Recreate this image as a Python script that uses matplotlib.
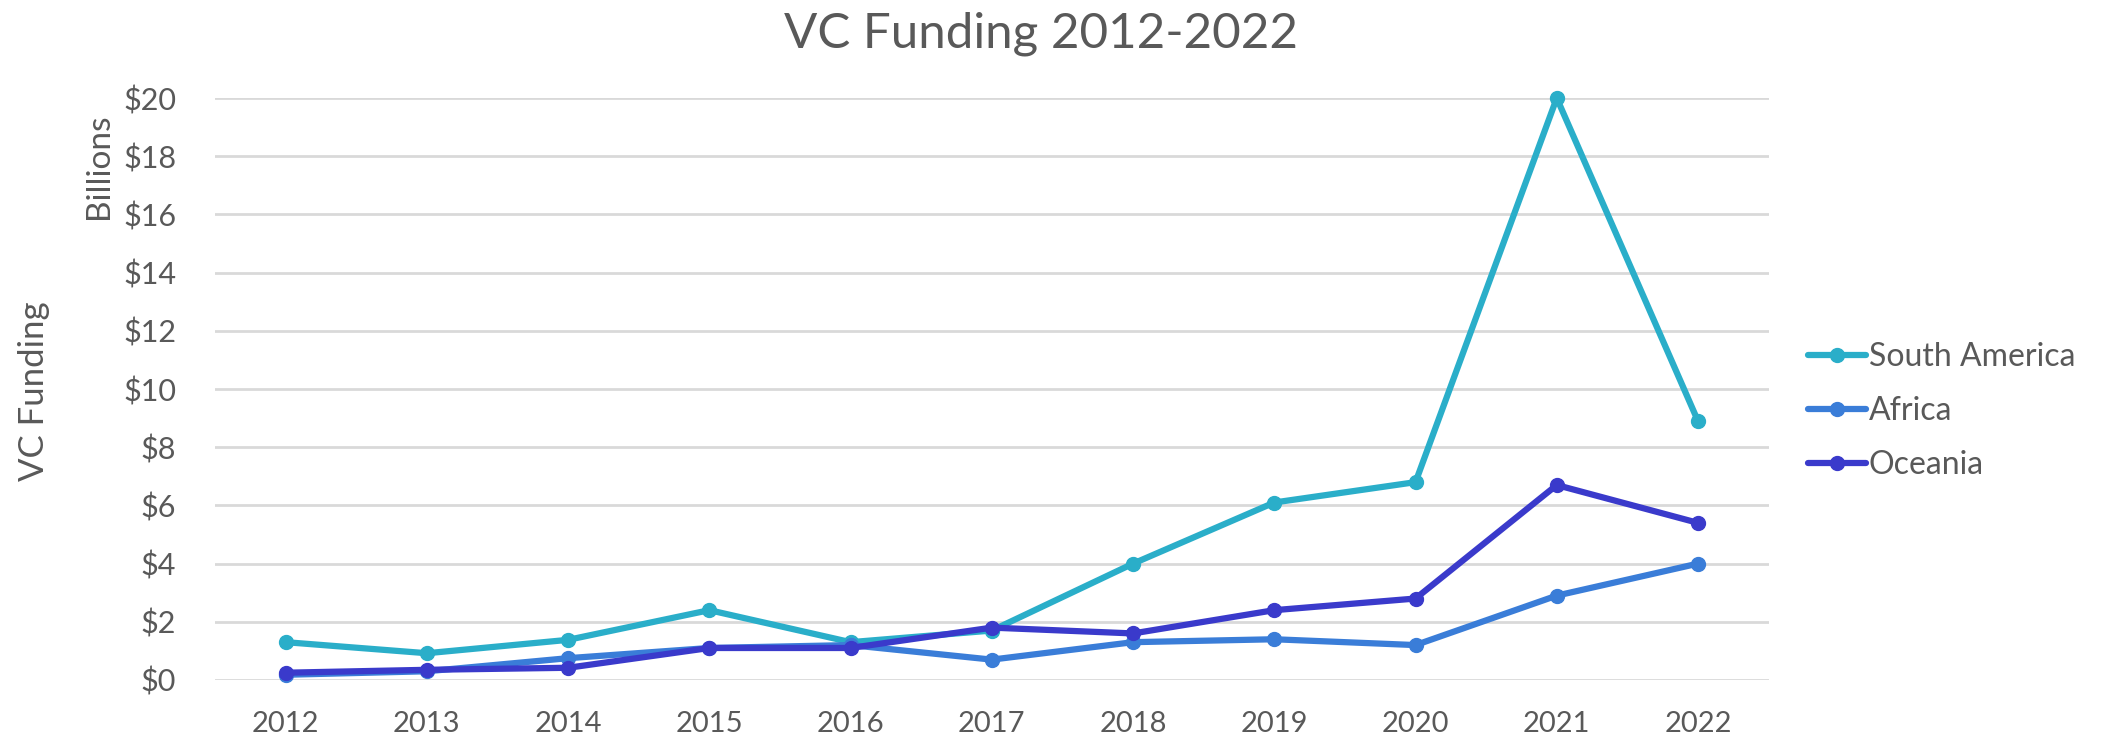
import matplotlib.pyplot as plt
import numpy as np

# ===============================
# Data (billions USD)
# ===============================
years = ["2012", "2013", "2014", "2015", "2016", "2017",
         "2018", "2019", "2020", "2021", "2022"]
south_america = [1.3, 0.92, 1.38, 2.4, 1.3, 1.7, 4.0, 6.1, 6.8, 20.0, 8.9]
africa = [0.18, 0.3, 0.75, 1.1, 1.2, 0.7, 1.3, 1.4, 1.2, 2.9, 4.0]
oceania = [0.25, 0.35, 0.42, 1.1, 1.1, 1.8, 1.6, 2.4, 2.8, 6.7, 5.4]

series = [("South America", south_america, "#2AAEC9"),
          ("Africa", africa, "#3A7DD8"),
          ("Oceania", oceania, "#3A3ACB")]

yticks = np.arange(0, 21, 2)
text_color = "#595959"

plt.rcParams['font.family'] = ['Lato', 'DejaVu Sans']

# ===============================
# Plot
# ===============================
fig = plt.figure(figsize=(21.08, 7.38), dpi=100)
ax = fig.add_axes([0.102, 0.0786, 0.737, 0.7885])

x = np.arange(len(years))
for name, vals, col in series:
    ax.plot(x, vals, color=col, linewidth=4.5, marker="o", markersize=10,
            label=name, clip_on=False, solid_capstyle="round")

ax.set_xlim(-0.5, len(years) - 0.5)
ax.set_ylim(0, 20)
ax.set_xticks(x)
ax.set_xticklabels(years)
ax.set_yticks(yticks)
ax.set_yticklabels([f"${v}" for v in yticks])
ax.tick_params(axis="both", length=0, colors=text_color)
ax.tick_params(axis="x", pad=22, labelsize=21)
ax.tick_params(axis="y", pad=28, labelsize=22)

ax.grid(axis="y", color="#d9d9d9", linewidth=2)
ax.set_axisbelow(True)
for s in ax.spines.values():
    s.set_visible(False)

fig.suptitle("VC Funding 2012-2022", x=0.494, y=0.985, va="top",
             fontsize=35.5, color=text_color)
fig.text(0.016, 0.47, "VC Funding", rotation=90, ha="center", va="center",
         fontsize=25, color=text_color)
fig.text(0.047, 0.775, "Billions", rotation=90, ha="center", va="center",
         fontsize=24, color=text_color)

leg = ax.legend(loc="center left", bbox_to_anchor=(1.007, 0.462), frameon=False,
                fontsize=23, handlelength=1.8, handletextpad=0.1,
                labelspacing=0.75, labelcolor=text_color)

fig.savefig("out.png", dpi=100)
